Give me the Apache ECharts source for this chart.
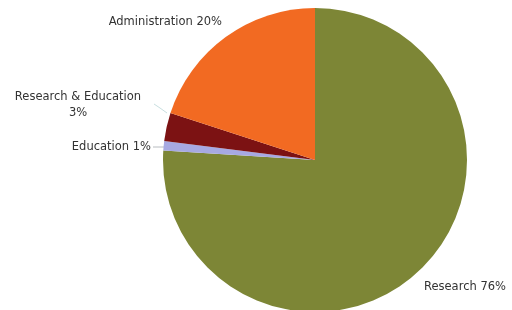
<!DOCTYPE html>
<html><head><meta charset="utf-8">
<script src="https://cdn.jsdelivr.net/npm/echarts@6/dist/echarts.min.js"></script>
<style>html,body{margin:0;padding:0;background:#fff}#c{width:512px;height:310px}</style>
</head><body><div id="c"></div>
<script>
var categories = ['Research', 'Education', 'Research & Education', 'Administration'];
var values = [76, 1, 3, 20];
var labelTexts = ['Research 76%', 'Education 1%', 'Research & Education\n3%', 'Administration 20%'];
var colors = ['#7d8636', '#a7a9e2', '#7c1213', '#f26a22'];

var layouts = [
  {x: 424, y: 287, align: 'left', verticalAlign: 'middle'},
  {x: 151, y: 147, align: 'right', verticalAlign: 'middle', labelLinePoints: [[153,147],[158,147],[164,147]]},
  {x: 78, y: 105, align: 'center', verticalAlign: 'middle', labelLinePoints: [[154,104],[160,108],[167,113]]},
  {x: 222, y: 22, align: 'right', verticalAlign: 'middle'}
];
var lineShow = [false, true, true, false];

var chart = echarts.init(document.getElementById('c'), null, {renderer: 'canvas'});
chart.setOption({
  backgroundColor: '#fff',
  animation: false,
  series: [{
    type: 'pie',
    center: [315, 160],
    radius: 152,
    startAngle: 90,
    clockwise: true,
    avoidLabelOverlap: false,
    data: categories.map(function (c, i) {
      return {
        name: c, value: values[i],
        itemStyle: {color: colors[i]},
        label: {formatter: labelTexts[i]},
        labelLine: {show: lineShow[i], lineStyle: {color: i === 1 ? '#b8bcc0' : '#c8dfe0', width: 1}}
      };
    }),
    itemStyle: {borderWidth: 0},
    label: {
      show: true, position: 'outside',
      fontFamily: 'DejaVu Sans, sans-serif', fontSize: 11.5,
      color: '#333', lineHeight: 16
    },
    labelLayout: function (p) { return layouts[p.dataIndex]; }
  }]
});
</script></body></html>
